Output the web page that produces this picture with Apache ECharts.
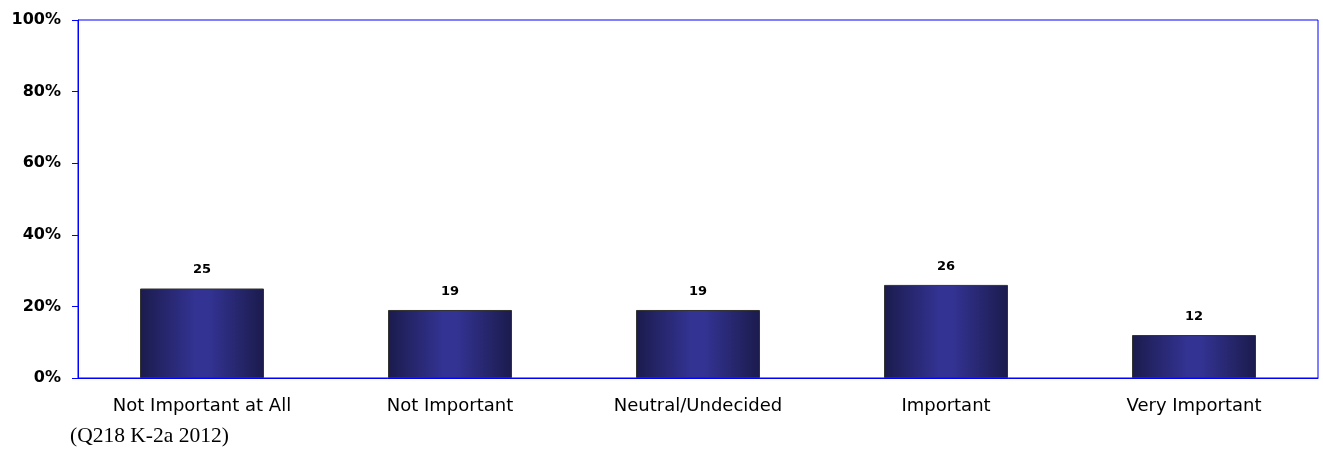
<!DOCTYPE html>
<html>
<head>
<meta charset="utf-8">
<script src="https://cdn.jsdelivr.net/npm/echarts@6/dist/echarts.min.js"></script>
<style>
html,body{margin:0;padding:0;background:#fff;}
#chart{width:1323px;height:452px;}
</style>
</head>
<body>
<div id="chart"></div>
<script>
const categories = ['Not Important at All', 'Not Important', 'Neutral/Undecided', 'Important', 'Very Important'];
const values = [25, 19, 19, 26, 12];
const yTicks = [0, 20, 40, 60, 80, 100];
const footnote = '(Q218 K-2a 2012)';

const chart = echarts.init(document.getElementById('chart'), null, {renderer: 'canvas'});
const barGradient = new echarts.graphic.LinearGradient(0, 0, 1, 0, [
  {offset: 0, color: '#1b1b4d'},
  {offset: 0.45, color: '#333394'},
  {offset: 0.55, color: '#333394'},
  {offset: 1, color: '#1b1b4d'}
]);
chart.setOption({
  animation: false,
  grid: {left: 78, right: 5, top: 20, bottom: 74, show: true, borderColor: '#0000ff', borderWidth: 1, backgroundColor: 'transparent'},
  xAxis: {
    type: 'category',
    data: categories,
    axisLine: {show: true, lineStyle: {color: '#0000ff', width: 1}},
    axisTick: {show: false},
    axisLabel: {color: '#000', fontFamily: 'DejaVu Sans', fontSize: 18, margin: 19}
  },
  yAxis: {
    type: 'value',
    min: yTicks[0],
    max: yTicks[yTicks.length - 1],
    interval: 20,
    axisLine: {show: true, lineStyle: {color: '#0000ff', width: 1}},
    axisTick: {show: true, length: 6, lineStyle: {color: '#0000ff', width: 1}},
    splitLine: {show: false},
    axisLabel: {color: '#000', fontFamily: 'DejaVu Sans', fontWeight: 'bold', fontSize: 16, margin: 17, formatter: v => v + '%'}
  },
  series: [{
    type: 'bar',
    data: values,
    barWidth: '50%',
    itemStyle: {color: barGradient, borderColor: '#333333', borderWidth: 1},
    label: {show: true, position: 'top', distance: 12, color: '#000', fontFamily: 'DejaVu Sans', fontWeight: 'bold', fontSize: 13}
  }],
  graphic: [{
    type: 'text',
    left: 70,
    top: 425,
    style: {text: footnote, fill: '#000', font: '21.5px "Liberation Serif"'}
  }]
});
</script>
</body>
</html>
